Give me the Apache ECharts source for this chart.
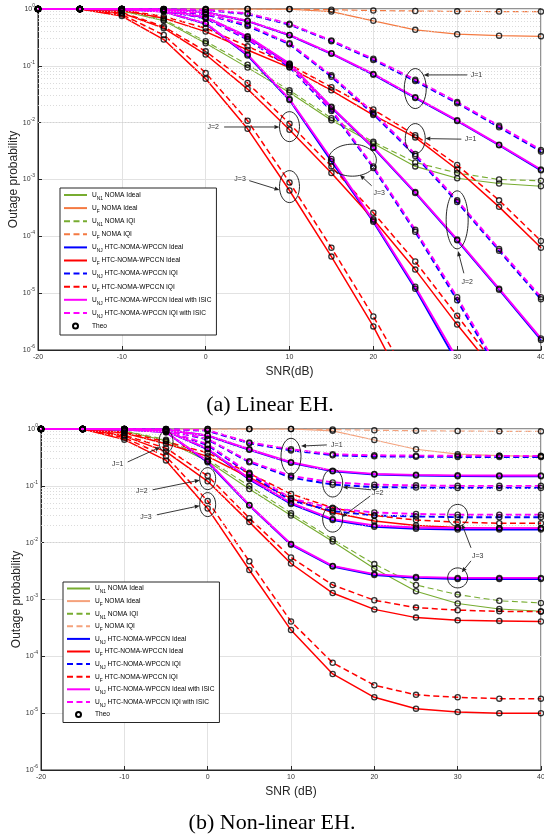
<!DOCTYPE html>
<html><head><meta charset="utf-8">
<script src="https://cdn.jsdelivr.net/npm/echarts@6/dist/echarts.min.js"></script>
<style>html,body{margin:0;padding:0;background:#fff}#c{width:544px;height:840px}</style>
</head><body><div id="c"></div><script>
// ---------- shared axes ----------
const snr = [-20,-15,-10,-5,0,5,10,15,20,25,30,35,40];
const xTicks = [-20,-10,0,10,20,30,40];
const yTickExp = [0,-1,-2,-3,-4,-5,-6];

// ---------- (a) Linear EH ----------
const aN1NomaIdeal = [1,0.99,0.92,0.62,0.25,0.093,0.034,0.011,0.0043,0.0017,0.00105,0.00085,0.00076];
const aFNomaIdeal  = [1,1,1,1,1,1,0.99,0.9,0.62,0.43,0.36,0.34,0.33];
const aN1NomaIqi   = [1,0.99,0.93,0.65,0.27,0.105,0.037,0.012,0.0046,0.002,0.0013,0.001,0.00095];
const aFNomaIqi    = [1,1,1,1,1,1,1,0.97,0.94,0.92,0.91,0.9,0.9];

const aNJIdealJ1   = [1,1,1,0.98,0.88,0.61,0.345,0.163,0.07,0.0272,0.0107,0.004,0.00145];
const aFIdealJ1    = [1,1,0.95,0.69,0.4,0.19,0.093,0.037,0.0136,0.0055,0.0015,0.00033,0.000063];
const aNJIqiJ1     = [1,1,1,0.99,0.96,0.81,0.53,0.27,0.127,0.054,0.022,0.0083,0.0031];
const aFIqiJ1      = [1,1,0.96,0.74,0.46,0.22,0.105,0.042,0.017,0.006,0.0018,0.00043,0.000083];
const aNJIsicJ1    = [1,1,1,0.98,0.88,0.62,0.35,0.166,0.072,0.028,0.011,0.0041,0.0015];
const aNJIqiIsicJ1 = [1,1,1,0.99,0.97,0.84,0.55,0.28,0.133,0.057,0.023,0.0088,0.0033];

const aNJIdealJ2   = [1,1,0.99,0.95,0.71,0.32,0.107,0.0185,0.0036,0.00058,0.000085,0.0000115,0.0000015];
const aFIdealJ2    = [1,1,0.85,0.46,0.158,0.039,0.0075,0.0013,0.0002,0.000026,0.0000028,0.00000035,0.00000003];
const aNJIqiJ2     = [1,1,1,0.97,0.8,0.5,0.24,0.064,0.0142,0.0026,0.0004,0.000056,0.0000078];
const aFIqiJ2      = [1,1,0.87,0.49,0.18,0.05,0.0096,0.0017,0.00026,0.000036,0.000004,0.00000045,0.00000004];
const aNJIsicJ2    = [1,1,0.99,0.95,0.72,0.33,0.11,0.019,0.0037,0.0006,0.000088,0.000012,0.0000016];
const aNJIqiIsicJ2 = [1,1,1,0.98,0.82,0.53,0.25,0.068,0.015,0.0028,0.00043,0.00006,0.0000085];

const aNJIdealJ3   = [1,1,0.99,0.9,0.55,0.152,0.025,0.0021,0.00018,0.000012,0.0000006,0.00000003,0.000000001];
const aFIdealJ3    = [1,1,0.75,0.29,0.059,0.0078,0.00064,0.000044,0.0000026,0.0000001,0.000000003,0.0000000001,0.000000000003];
const aNJIqiJ3     = [1,1,1,0.94,0.68,0.29,0.095,0.016,0.0016,0.00012,0.0000075,0.0000004,0.00000002];
const aFIqiJ3      = [1,1,0.8,0.35,0.075,0.0108,0.00089,0.000063,0.0000039,0.0000002,0.00000001,0.0000000005,0.00000000002];
const aNJIsicJ3    = [1,1,0.99,0.9,0.56,0.158,0.026,0.0023,0.00019,0.000013,0.0000007,0.00000004,0.000000002];
const aNJIqiIsicJ3 = [1,1,1,0.95,0.7,0.3,0.1,0.017,0.0017,0.00013,0.0000085,0.00000045,0.00000002];

// ---------- (b) Non-linear EH ----------
const bN1NomaIdeal = [1,0.99,0.92,0.62,0.27,0.088,0.03,0.0105,0.0035,0.0014,0.00085,0.00068,0.00062];
const bFNomaIdeal  = [1,1,1,1,1,1,1,0.93,0.64,0.44,0.36,0.34,0.33];
const bN1NomaIqi   = [1,0.99,0.93,0.65,0.29,0.1,0.033,0.0115,0.0042,0.0018,0.00122,0.00095,0.00087];
const bFNomaIqi    = [1,1,1,1,1,1,1,0.98,0.95,0.93,0.92,0.91,0.91];

const bNJIdealJ1   = [1,1,1,0.97,0.76,0.43,0.255,0.18,0.158,0.152,0.148,0.147,0.147];
const bFIdealJ1    = [1,1,0.85,0.55,0.33,0.14,0.06,0.034,0.024,0.02,0.0185,0.018,0.018];
const bNJIqiJ1     = [1,1,1,0.99,0.93,0.56,0.42,0.345,0.33,0.325,0.322,0.32,0.32];
const bFIqiJ1      = [1,1,0.88,0.6,0.38,0.165,0.072,0.041,0.03,0.025,0.023,0.022,0.022];
const bNJIsicJ1    = [1,1,1,0.97,0.77,0.44,0.26,0.185,0.162,0.156,0.153,0.152,0.152];
const bNJIqiIsicJ1 = [1,1,1,0.99,0.95,0.58,0.44,0.36,0.345,0.34,0.338,0.337,0.337];

const bNJIdealJ2   = [1,1,0.99,0.93,0.44,0.13,0.048,0.025,0.019,0.0175,0.017,0.017,0.017];
const bFIdealJ2    = [1,1,0.75,0.4,0.12,0.023,0.0043,0.0013,0.00067,0.00048,0.00043,0.00042,0.00041];
const bNJIqiJ2     = [1,1,1,0.97,0.65,0.26,0.14,0.105,0.095,0.093,0.092,0.092,0.092];
const bFIqiJ2      = [1,1,0.78,0.46,0.15,0.027,0.0055,0.0018,0.00097,0.00072,0.00065,0.00062,0.00061];
const bNJIsicJ2    = [1,1,0.99,0.93,0.45,0.135,0.05,0.026,0.02,0.0185,0.018,0.018,0.018];
const bNJIqiIsicJ2 = [1,1,1,0.97,0.67,0.27,0.15,0.115,0.105,0.102,0.1,0.1,0.1];

const bNJIdealJ3   = [1,1,0.98,0.88,0.26,0.045,0.0092,0.0038,0.0027,0.0024,0.0023,0.0023,0.0023];
const bFIdealJ3    = [1,1,0.65,0.28,0.04,0.0033,0.00029,0.000049,0.000019,0.000012,0.0000105,0.00001,0.00001];
const bNJIqiJ3     = [1,1,0.99,0.92,0.52,0.16,0.055,0.036,0.03,0.029,0.028,0.028,0.028];
const bFIqiJ3      = [1,1,0.7,0.33,0.054,0.0047,0.00041,0.000077,0.000031,0.000021,0.000019,0.000018,0.000018];
const bNJIsicJ3    = [1,1,0.98,0.88,0.27,0.046,0.0095,0.0039,0.0028,0.0025,0.0024,0.0024,0.0024];
const bNJIqiIsicJ3 = [1,1,0.99,0.93,0.54,0.17,0.06,0.04,0.034,0.032,0.031,0.031,0.031];

// ---------- legend names ----------
const legendNames = ['U_N1 NOMA Ideal','U_F NOMA Ideal','U_N1 NOMA IQI','U_F NOMA IQI',
  'U_NJ HTC-NOMA-WPCCN Ideal','U_F HTC-NOMA-WPCCN Ideal','U_NJ HTC-NOMA-WPCCN IQI','U_F HTC-NOMA-WPCCN IQI',
  'U_NJ HTC-NOMA-WPCCN Ideal with ISIC','U_NJ HTC-NOMA-WPCCN IQI with ISIC','Theo'];

// ---------- annotations (data coords: x in dB, y as log10 exponent) ----------
const annoEllA = [[25,-1.4,11,20],[25,-2.28,10,15],[10,-2.07,10,15],[10,-3.125,10,16],[17.5,-2.66,24,16],[30,-3.71,11,29]];
const annoLabA = [['J=1',32.3,-1.16],['J=1',31.6,-2.29],['J=2',0.9,-2.076],['J=3',4.1,-3.0],['J=3',20.7,-3.24],['J=2',31.2,-4.80]];
const annoArrA = [[31.2,-1.16,26.0,-1.16],[30.5,-2.29,26.2,-2.28],[2.2,-2.076,8.8,-2.076],[5.2,-3.02,8.8,-3.185],[19.8,-3.11,18.4,-2.92],[30.8,-4.65,30.1,-4.26]];
const annoEllB = [[-5,-0.22,7,11],[10,-0.48,10,18],[0,-0.873,8,11],[0,-1.33,8,12],[15,-0.95,10,14],[15,-1.585,10,13],[30,-1.52,10,11],[30,-2.62,10,10]];
const annoLabB = [['J=1',-10.8,-0.616],['J=1',15.5,-0.28],['J=2',-7.9,-1.09],['J=3',-7.4,-1.55],['J=2',20.4,-1.126],['J=3',32.4,-2.235]];
const annoArrB = [[-9.6,-0.58,-5.7,-0.32],[14.3,-0.28,11.2,-0.30],[-6.6,-1.07,-0.95,-0.90],[-6.1,-1.51,-0.95,-1.35],[19.6,-1.07,16.2,-1.02],[19.5,-1.18,16.1,-1.55],[31.6,-2.09,30.5,-1.67],[31.6,-2.32,30.5,-2.52]];

// ---------- build ----------
const F = '"Liberation Sans", Arial, sans-serif';
const COL = {green:'#77AC30', orangeA:'#F47A42', orangeB:'#F5A27C', blue:'#0000FF', red:'#FF0000', mag:'#FF00FF'};
const DASH = [6,3.5];

const panels = [
  {sfx:'', orange:COL.orangeA, noma:[aN1NomaIdeal,aFNomaIdeal,aN1NomaIqi,aFNomaIqi],
   J:[[aNJIdealJ1,aFIdealJ1,aNJIqiJ1,aFIqiJ1,aNJIsicJ1,aNJIqiIsicJ1],
      [aNJIdealJ2,aFIdealJ2,aNJIqiJ2,aFIqiJ2,aNJIsicJ2,aNJIqiIsicJ2],
      [aNJIdealJ3,aFIdealJ3,aNJIqiJ3,aFIqiJ3,aNJIsicJ3,aNJIqiIsicJ3]]},
  {sfx:'#b', orange:COL.orangeB, noma:[bN1NomaIdeal,bFNomaIdeal,bN1NomaIqi,bFNomaIqi],
   J:[[bNJIdealJ1,bFIdealJ1,bNJIqiJ1,bFIqiJ1,bNJIsicJ1,bNJIqiIsicJ1],
      [bNJIdealJ2,bFIdealJ2,bNJIqiJ2,bFIqiJ2,bNJIsicJ2,bNJIqiIsicJ2],
      [bNJIdealJ3,bFIdealJ3,bNJIqiJ3,bFIqiJ3,bNJIsicJ3,bNJIqiIsicJ3]]}
];

function lineS(name, arr, color, width, dashed, gi, z) {
  return {type:'line', name, xAxisIndex:gi, yAxisIndex:gi,
    data: snr.map((x,i)=>[x, arr[i]]), symbol:'none', showSymbol:false, clip:true,
    lineStyle:{color, width, type: dashed ? DASH : 'solid'}, itemStyle:{color},
    emphasis:{disabled:true}, silent:true, animation:false, z: z||2};
}

const minorVals = [];
for (let e=-6; e<0; e++) for (let k=2; k<=9; k++) minorVals.push(k*Math.pow(10,e));

const series = [];
panels.forEach((p, gi) => {
  series.push({type:'line', name:'_minor'+gi, xAxisIndex:gi, yAxisIndex:gi, data:[[-20,1]], symbol:'none',
    lineStyle:{opacity:0}, silent:true, animation:false, z:1,
    markLine:{silent:true, symbol:['none','none'], label:{show:false}, animation:false,
      lineStyle:{color:'#d2d2d2', type:[1,2], width:0.8}, emphasis:{disabled:true},
      data: minorVals.map(v=>({yAxis:v}))}});
  const n = legendNames, s = p.sfx;
  series.push(lineS(n[0]+s, p.noma[0], COL.green, 1.1, false, gi));
  series.push(lineS(n[1]+s, p.noma[1], p.orange, 1.2, false, gi));
  series.push(lineS(n[2]+s, p.noma[2], COL.green, 1.1, true, gi));
  series.push(lineS(n[3]+s, p.noma[3], p.orange, 1.2, true, gi));
  const styles = [[n[4],COL.blue,1.9,false],[n[5],COL.red,1.5,false],[n[6],COL.blue,1.9,true],
                  [n[7],COL.red,1.5,true],[n[8],COL.mag,1.9,false],[n[9],COL.mag,1.9,true]];
  styles.forEach((st, k) => {
    p.J.forEach(jArr => series.push(lineS(st[0]+s, jArr[k], st[1], st[2], st[3], gi, 2+k*0.1)));
  });
  const pts = [];
  const all = p.noma.concat(...p.J);
  all.forEach(arr => arr.forEach((v,i) => { if (v >= 1e-6) pts.push([snr[i], v]); }));
  series.push({type:'scatter', name:n[10]+s, xAxisIndex:gi, yAxisIndex:gi, data:pts,
    symbol:'circle', symbolSize:5.2, clip:true, silent:true, animation:false, z:5,
    itemStyle:{color:'rgba(0,0,0,0)', borderColor:'#000', borderWidth:1.3}});
});

const gridsPx = [{left:38, top:9, width:503, height:341},{left:41, top:429, width:500, height:341}];

function yFmt(v){ const e = Math.round(Math.log10(v)); return '{b|10}{p|' + e + '}'; }
function legFmt(name){
  const nm = name.split('#')[0];
  const m = nm.match(/^U_(\S+) (.*)$/);
  if (!m) return '{m|' + nm + '}';
  return '{m|U}{s|' + m[1] + '}{m| ' + m[2] + '}';
}

const xAxes = gridsPx.map((g, gi) => ({type:'value', gridIndex:gi, min:xTicks[0], max:xTicks[xTicks.length-1], interval:10,
  name: gi ? 'SNR (dB)' : 'SNR(dB)', nameLocation:'middle', nameGap:16, nameMoveOverlap:false,
  nameTextStyle:{fontSize:12, color:'#262626', fontFamily:F},
  axisLine:{show:true, onZero:false, lineStyle:{color:'#262626', width:1}},
  axisTick:{show:true, inside:true, length:4, lineStyle:{color:'#262626'}},
  axisLabel:{fontSize:7, color:'#333', margin:4, fontFamily:F, showMinLabel:true, showMaxLabel:true, hideOverlap:false},
  splitLine:{show:true, lineStyle:{color:'#e2e2e2', width:1}}}));

const yAxes = gridsPx.map((g, gi) => ({type:'log', logBase:10, gridIndex:gi,
  min:Math.pow(10, yTickExp[yTickExp.length-1]), max:Math.pow(10, yTickExp[0]),
  name:'Outage probability', nameLocation:'middle', nameGap:18, nameMoveOverlap:false,
  nameTextStyle:{fontSize:12, color:'#262626', fontFamily:F},
  axisLine:{show:true, onZero:false, lineStyle:{color:'#262626', width:1}},
  axisTick:{show:true, inside:true, length:4, lineStyle:{color:'#262626'}},
  axisLabel:{formatter:yFmt, margin:3, color:'#333', showMinLabel:true, showMaxLabel:true, hideOverlap:false,
    rich:{b:{fontSize:7, lineHeight:12, verticalAlign:'middle', fontFamily:F, color:'#333'},
          p:{fontSize:5, lineHeight:5, verticalAlign:'top', fontFamily:F, color:'#333'}}},
  splitLine:{show:true, lineStyle:{color:'#e2e2e2', width:1}}}));

const legendPos = [{left:60, top:188, pad:[1,5,3,3], gap:1.1},{left:63, top:582, pad:[0.5,5,2,3], gap:0.6}];
const legends = panels.map((p, gi) => ({
  orient:'vertical', left:legendPos[gi].left, top:legendPos[gi].top, padding:legendPos[gi].pad,
  itemGap:legendPos[gi].gap, itemWidth:23, itemHeight:5, selectedMode:false,
  backgroundColor:'#fff', borderColor:'#262626', borderWidth:1, borderRadius:0,
  itemStyle:{opacity:0},
  data: legendNames.map((nm, k) => k === 10 ? {name:nm+p.sfx, itemStyle:{opacity:1}} : {name:nm+p.sfx}),
  formatter: legFmt,
  textStyle:{fontSize:6.6, lineHeight:12, fontFamily:F, color:'#000',
    rich:{m:{fontSize:6.6, lineHeight:12, verticalAlign:'middle', fontFamily:F, color:'#000'},
          s:{fontSize:4.8, lineHeight:5, verticalAlign:'bottom', fontFamily:F, color:'#000'}}}
}));

const chart = echarts.init(document.getElementById('c'));
chart.setOption({
  animation:false, backgroundColor:'#fff',
  grid: gridsPx.map(g => Object.assign({show:true, borderColor:'#262626', borderWidth:1, containLabel:false, outerBoundsMode:'none'}, g)),
  xAxis:xAxes, yAxis:yAxes, legend:legends, series
});

// ---------- annotations & captions ----------
const gfx = [];
function px(gi, x, e){ return chart.convertToPixel({xAxisIndex:gi, yAxisIndex:gi}, [x, Math.pow(10, e)]); }
function addAnno(gi, ells, labs, arrs){
  ells.forEach(a => { const c = px(gi, a[0], a[1]);
    gfx.push({type:'ellipse', shape:{cx:c[0], cy:c[1], rx:a[2], ry:a[3]}, style:{fill:'none', stroke:'#111', lineWidth:0.9}, silent:true, z:100}); });
  labs.forEach(l => { const c = px(gi, l[1], l[2]);
    gfx.push({type:'text', x:c[0], y:c[1], style:{text:l[0], fill:'#333', font:'7px '+F, align:'center', verticalAlign:'middle'}, silent:true, z:101}); });
  arrs.forEach(a => { const p1 = px(gi, a[0], a[1]), p2 = px(gi, a[2], a[3]);
    const dx = p2[0]-p1[0], dy = p2[1]-p1[1], L = Math.hypot(dx, dy), ux = dx/L, uy = dy/L, hl = 5, hw = 2.1;
    const bx = p2[0]-ux*hl, by = p2[1]-uy*hl;
    gfx.push({type:'line', shape:{x1:p1[0], y1:p1[1], x2:bx, y2:by}, style:{stroke:'#222', lineWidth:0.9}, silent:true, z:100});
    gfx.push({type:'polygon', shape:{points:[[p2[0],p2[1]],[bx-uy*hw, by+ux*hw],[bx+uy*hw, by-ux*hw]]}, style:{fill:'#222'}, silent:true, z:100});
  });
}
addAnno(0, annoEllA, annoLabA, annoArrA);
addAnno(1, annoEllB, annoLabB, annoArrB);
gfx.push({type:'text', x:270, y:405, style:{text:'(a) Linear EH.', font:'22px "Liberation Serif", "Times New Roman", serif', fill:'#000', align:'center', verticalAlign:'middle'}, silent:true});
gfx.push({type:'text', x:272, y:823, style:{text:'(b) Non-linear EH.', font:'22px "Liberation Serif", "Times New Roman", serif', fill:'#000', align:'center', verticalAlign:'middle'}, silent:true});
chart.setOption({graphic: gfx});
</script></body></html>
